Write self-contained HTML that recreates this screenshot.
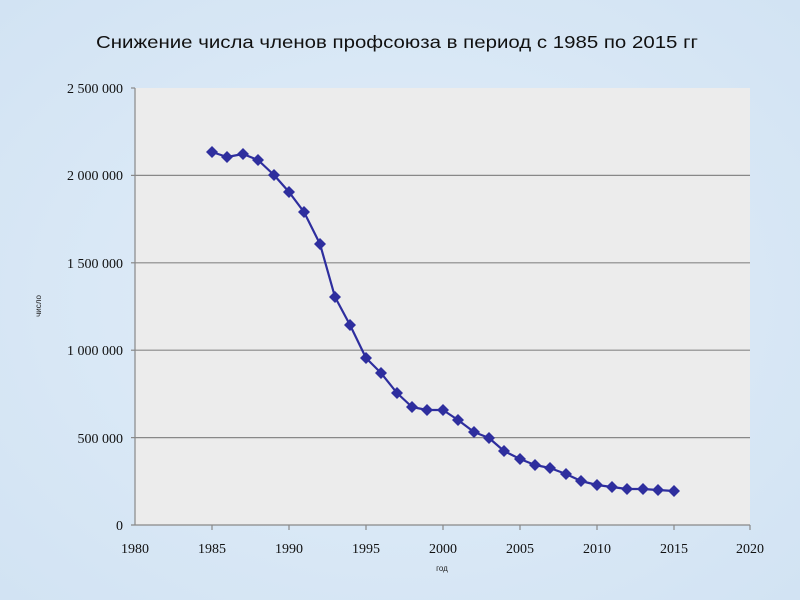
<!DOCTYPE html>
<html><head><meta charset="utf-8"><style>
html,body{margin:0;padding:0;width:800px;height:600px;overflow:hidden;background:#d9e8f6;}
svg{display:block}
</style></head><body>
<svg width="800" height="600" viewBox="0 0 800 600" xmlns="http://www.w3.org/2000/svg">
<defs>
<radialGradient id="bg" cx="50%" cy="50%" r="70%"><stop offset="0" stop-color="#e2eef9"/><stop offset="1" stop-color="#d2e3f3"/></radialGradient>
</defs>
<rect width="800" height="600" fill="url(#bg)"/>
<text x="397" y="48" text-anchor="middle" font-family="Liberation Sans, sans-serif" font-size="17.5" fill="#111" textLength="602" lengthAdjust="spacingAndGlyphs">Снижение числа членов профсоюза в период с 1985 по 2015 гг</text>
<rect x="135" y="88" width="615" height="437" fill="#ececec"/>
<g stroke="#888" stroke-width="1.2">
<line x1="135" y1="175.4" x2="750" y2="175.4"/>
<line x1="135" y1="262.8" x2="750" y2="262.8"/>
<line x1="135" y1="350.2" x2="750" y2="350.2"/>
<line x1="135" y1="437.6" x2="750" y2="437.6"/>
<line x1="135" y1="88" x2="135" y2="525"/>
<line x1="131" y1="525" x2="750" y2="525"/>
<line x1="131" y1="88" x2="135" y2="88"/><line x1="131" y1="175.4" x2="135" y2="175.4"/><line x1="131" y1="262.8" x2="135" y2="262.8"/><line x1="131" y1="350.2" x2="135" y2="350.2"/><line x1="131" y1="437.6" x2="135" y2="437.6"/>
<line x1="212" y1="525" x2="212" y2="530"/><line x1="289" y1="525" x2="289" y2="530"/><line x1="366" y1="525" x2="366" y2="530"/><line x1="443" y1="525" x2="443" y2="530"/><line x1="520" y1="525" x2="520" y2="530"/><line x1="597" y1="525" x2="597" y2="530"/><line x1="674" y1="525" x2="674" y2="530"/><line x1="750" y1="525" x2="750" y2="530"/>
</g>
<g font-family="Liberation Serif, serif" font-size="14" fill="#111" text-anchor="end">
<text x="123" y="93">2 500 000</text>
<text x="123" y="180">2 000 000</text>
<text x="123" y="268">1 500 000</text>
<text x="123" y="355">1 000 000</text>
<text x="123" y="443">500 000</text>
<text x="123" y="530">0</text>
</g>
<g font-family="Liberation Serif, serif" font-size="14" fill="#111" text-anchor="middle">
<text x="135" y="553">1980</text><text x="212" y="553">1985</text><text x="289" y="553">1990</text><text x="366" y="553">1995</text><text x="443" y="553">2000</text><text x="520" y="553">2005</text><text x="597" y="553">2010</text><text x="674" y="553">2015</text><text x="750" y="553">2020</text>
</g>
<text x="442" y="571" font-family="Liberation Sans, sans-serif" font-size="8" fill="#222" text-anchor="middle">год</text>
<text transform="translate(41,306) rotate(-90)" font-family="Liberation Sans, sans-serif" font-size="8" fill="#222" text-anchor="middle">число</text>
<polyline fill="none" stroke="#2e2e9e" stroke-width="2.2" stroke-linejoin="round" points="212,152 227,157 243,154 258,160 274,175 289,192 304,212 320,244 335,297 350,325 366,358 381,373 397,393 412,407 427,410 443,410 458,420 474,432 489,438 504,451 520,459 535,465 550,468 566,474 581,481 597,485 612,487 627,489 643,489 658,490 674,491"/>
<g fill="#2e2e9e" id="m">
<script>/* none */</script>
</g>
<g fill="#2e2e9e">
<path d="M212,146l6,6l-6,6l-6,-6z"/><path d="M227,151l6,6l-6,6l-6,-6z"/><path d="M243,148l6,6l-6,6l-6,-6z"/><path d="M258,154l6,6l-6,6l-6,-6z"/><path d="M274,169l6,6l-6,6l-6,-6z"/><path d="M289,186l6,6l-6,6l-6,-6z"/><path d="M304,206l6,6l-6,6l-6,-6z"/><path d="M320,238l6,6l-6,6l-6,-6z"/><path d="M335,291l6,6l-6,6l-6,-6z"/><path d="M350,319l6,6l-6,6l-6,-6z"/><path d="M366,352l6,6l-6,6l-6,-6z"/><path d="M381,367l6,6l-6,6l-6,-6z"/><path d="M397,387l6,6l-6,6l-6,-6z"/><path d="M412,401l6,6l-6,6l-6,-6z"/><path d="M427,404l6,6l-6,6l-6,-6z"/><path d="M443,404l6,6l-6,6l-6,-6z"/><path d="M458,414l6,6l-6,6l-6,-6z"/><path d="M474,426l6,6l-6,6l-6,-6z"/><path d="M489,432l6,6l-6,6l-6,-6z"/><path d="M504,445l6,6l-6,6l-6,-6z"/><path d="M520,453l6,6l-6,6l-6,-6z"/><path d="M535,459l6,6l-6,6l-6,-6z"/><path d="M550,462l6,6l-6,6l-6,-6z"/><path d="M566,468l6,6l-6,6l-6,-6z"/><path d="M581,475l6,6l-6,6l-6,-6z"/><path d="M597,479l6,6l-6,6l-6,-6z"/><path d="M612,481l6,6l-6,6l-6,-6z"/><path d="M627,483l6,6l-6,6l-6,-6z"/><path d="M643,483l6,6l-6,6l-6,-6z"/><path d="M658,484l6,6l-6,6l-6,-6z"/><path d="M674,485l6,6l-6,6l-6,-6z"/>
</g>
</svg>
</body></html>
